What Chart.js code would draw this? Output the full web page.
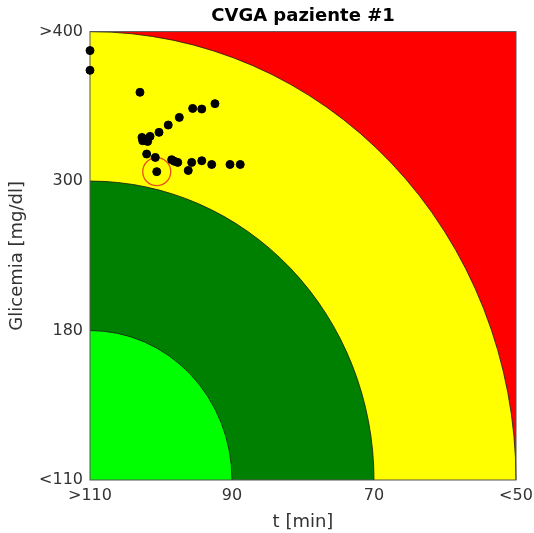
<!DOCTYPE html>
<html>
<head>
<meta charset="utf-8">
<script src="https://cdn.jsdelivr.net/npm/chart.js@4"></script>
<style>
  html, body { margin: 0; padding: 0; background: #fff; }
  #wrap { width: 534px; height: 533px; }
</style>
</head>
<body>
<div id="wrap"><canvas id="cvga"></canvas></div>
<script>
// axis labels for the zone boundaries (0..3 on each axis)
const xTickLabels = ['>110', '90', '70', '<50'];
const yTickLabels = ['<110', '180', '300', '>400'];

// zone radii in axis units and their fill colours (outer first)
const zoneRadii = [3, 2, 1];
const zoneColors = ['#ffff00', '#008000', '#00ff00'];
const outsideColor = '#ff0000';

// patient readings, in zone units
const pointsX = [0.0, 0.0, 0.352, 0.880, 0.723, 0.787, 0.629, 0.551, 0.486, 0.423, 0.366, 0.371,
  0.406, 0.399, 0.460, 0.575, 0.594, 0.618, 0.692, 0.716, 0.787, 0.857, 0.986, 1.058];
const pointsY = [2.873, 2.741, 2.594, 2.518, 2.486, 2.482, 2.426, 2.375, 2.326, 2.299, 2.292, 2.270,
  2.265, 2.181, 2.158, 2.143, 2.132, 2.125, 2.071, 2.125, 2.136, 2.111, 2.111, 2.111];

// highlighted reading (drawn with a ring around it)
const markX = [0.470];
const markY = [2.063];

const textColor = '#333333';
const fontFamily = '"DejaVu Sans", sans-serif';

const zonesPlugin = {
  id: 'zones',
  beforeDatasetsDraw(chart) {
    const { ctx, chartArea, scales } = chart;
    const cx = scales.x.getPixelForValue(0);
    const cy = scales.y.getPixelForValue(0);
    ctx.save();
    ctx.fillStyle = outsideColor;
    ctx.fillRect(chartArea.left, chartArea.top, chartArea.width, chartArea.height);
    zoneRadii.forEach((r, i) => {
      const rx = scales.x.getPixelForValue(r) - cx;
      const ry = cy - scales.y.getPixelForValue(r);
      ctx.beginPath();
      ctx.moveTo(cx, cy);
      ctx.ellipse(cx, cy, rx, ry, 0, -Math.PI / 2, 0);
      ctx.closePath();
      ctx.fillStyle = zoneColors[i];
      ctx.fill();
      ctx.beginPath();
      ctx.ellipse(cx, cy, rx, ry, 0, -Math.PI / 2, 0);
      ctx.strokeStyle = '#1a1a1a';
      ctx.lineWidth = 0.8;
      ctx.stroke();
    });
    ctx.strokeStyle = '#555555';
    ctx.lineWidth = 1;
    ctx.strokeRect(chartArea.left, chartArea.top, chartArea.width, chartArea.height);
    ctx.restore();
  }
};

const toPoints = (xs, ys) => xs.map((x, i) => ({ x: x, y: ys[i] }));

new Chart(document.getElementById('cvga'), {
  type: 'scatter',
  data: {
    datasets: [
      {
        data: toPoints(pointsX, pointsY).concat(toPoints(markX, markY)),
        backgroundColor: '#000',
        borderColor: '#000',
        pointRadius: 4,
        pointHoverRadius: 4,
        clip: false
      },
      {
        data: toPoints(markX, markY),
        backgroundColor: 'rgba(0,0,0,0)',
        borderColor: '#e8501e',
        borderWidth: 1.3,
        pointRadius: 14,
        pointHoverRadius: 14,
        clip: false
      }
    ]
  },
  options: {
    responsive: true,
    maintainAspectRatio: false,
    animation: false,
    layout: { padding: { right: 18, top: 0, left: 0, bottom: 0 } },
    plugins: {
      legend: { display: false },
      tooltip: { enabled: false },
      title: {
        display: true,
        text: 'CVGA paziente #1',
        fullSize: false,
        color: '#000',
        font: { family: fontFamily, size: 18, weight: 'bold', lineHeight: 1.2 },
        padding: { top: 6, bottom: 4 }
      }
    },
    scales: {
      x: {
        type: 'linear',
        min: 0,
        max: 3,
        afterFit(scale) {
          scale.height = 53;
          scale.paddingLeft = 0;
          scale.paddingRight = 0;
        },
        grid: { display: false, drawTicks: false },
        border: { display: false },
        ticks: {
          stepSize: 1,
          padding: 6,
          maxRotation: 0,
          color: textColor,
          font: { family: fontFamily, size: 16 },
          callback: (v) => xTickLabels[v]
        },
        title: {
          display: true,
          text: 't [min]',
          color: textColor,
          padding: { top: 0, bottom: 0 },
          font: { family: fontFamily, size: 18 }
        }
      },
      y: {
        type: 'linear',
        min: 0,
        max: 3,
        afterFit(scale) {
          scale.width = 90;
          scale.paddingTop = 0;
          scale.paddingBottom = 0;
        },
        grid: { display: false, drawTicks: false },
        border: { display: false },
        ticks: {
          stepSize: 1,
          padding: 7,
          color: textColor,
          font: { family: fontFamily, size: 16 },
          callback: (v) => yTickLabels[v]
        },
        title: {
          display: true,
          text: 'Glicemia [mg/dl]',
          color: textColor,
          padding: { top: 7, bottom: 4 },
          font: { family: fontFamily, size: 18 }
        }
      }
    }
  },
  plugins: [zonesPlugin]
});
</script>
</body>
</html>
